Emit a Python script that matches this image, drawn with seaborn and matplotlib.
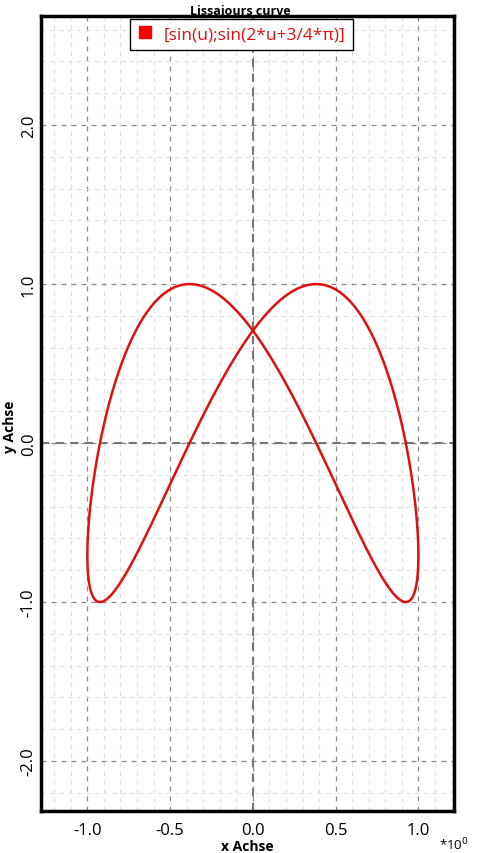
import numpy as np
import pandas as pd
import matplotlib
matplotlib.use('Agg')
import matplotlib.pyplot as plt
import seaborn as sns
from matplotlib.ticker import MultipleLocator

# curve from the legend: [sin(u); sin(2*u+3/4*pi)]
freq_x = 1
freq_y = 2
phase_y = 3 / 4 * np.pi
u = np.linspace(0, 2 * np.pi, 721)

curve = pd.DataFrame({
    'x': np.sin(freq_x * u),
    'y': np.sin(freq_y * u + phase_y),
})

x_major = [-1.0, -0.5, 0.0, 0.5, 1.0]
y_major = [-2.0, -1.0, 0.0, 1.0, 2.0]

sns.set_style('white')
plt.rcParams['font.family'] = ['Open Sans', 'DejaVu Sans']
plt.rcParams['text.color'] = 'black'
plt.rcParams['axes.labelcolor'] = 'black'

fig = plt.figure(figsize=(4.8, 8.54), dpi=100)
ax = fig.add_axes([41 / 480, 42 / 854, 413 / 480, 795 / 854])

sns.lineplot(data=curve, x='x', y='y', sort=False, estimator=None,
             color='#e01010', linewidth=1.8, ax=ax, label='_nolegend_')

ax.set_xlim(-1.28, 1.215)
ax.set_ylim(-2.314, 2.686)
ax.set_xticks(x_major)
ax.set_yticks(y_major)
ax.xaxis.set_minor_locator(MultipleLocator(0.1))
ax.yaxis.set_minor_locator(MultipleLocator(0.2))
ax.set_xticklabels([f'{v:.1f}' for v in x_major])
ax.set_yticklabels([f'{v:.1f}' for v in y_major], rotation=90, va='center')

ax.grid(which='minor', color='#e0e0e0', linestyle=(0, (4, 4)), linewidth=0.8)
ax.grid(which='major', color='#8a8a8a', linestyle=(0, (4, 4)), linewidth=0.9)
ax.axhline(0, color='#777777', linestyle=(0, (4, 3)), linewidth=1.5, zorder=1)
ax.axvline(0, color='#777777', linestyle=(0, (4, 3)), linewidth=1.5, zorder=1)
ax.set_axisbelow(True)

ax.tick_params(which='major', direction='in', length=8, width=1.5, labelsize=12,
               colors='black', top=False, right=False)
ax.tick_params(which='minor', direction='in', length=5, width=1.2,
               top=False, right=False)
ax.tick_params(axis='x', pad=8)
ax.tick_params(axis='y', pad=3)
for side in ['left', 'bottom', 'top', 'right']:
    ax.spines[side].set_color('black')
    ax.spines[side].set_linewidth(2.5)

ax.set_xlabel('x Achse', fontsize=10, fontweight='bold', labelpad=1)
ax.set_ylabel('y Achse', fontsize=10, fontweight='bold', va='center')
ax.yaxis.set_label_coords(-0.075, 0.484)

fig.text(0.5, 1 - 11 / 854, 'Lissajours curve', ha='center', va='center',
         fontsize=9, fontweight='bold')
fig.text(0.915, 9 / 854, '*10$^{0}$', ha='left', va='center', fontsize=9.5)

# legend with a red square marker
handle = plt.Line2D([], [], marker='s', color='#ff0000', linestyle='None',
                    markersize=8)
leg = ax.legend([handle], ['[sin(u);sin(2*u+3/4*π)]'], loc='upper center',
                bbox_to_anchor=(0.485, 1.0), fontsize=12.5, frameon=True,
                fancybox=False, framealpha=1, edgecolor='black',
                handlelength=0.9, handletextpad=0.6, borderpad=0.45,
                borderaxespad=0.15)
leg.get_frame().set_linewidth(1.0)
for t in leg.get_texts():
    t.set_color('#e01010')

fig.savefig('out.png', dpi=100, facecolor='white')
